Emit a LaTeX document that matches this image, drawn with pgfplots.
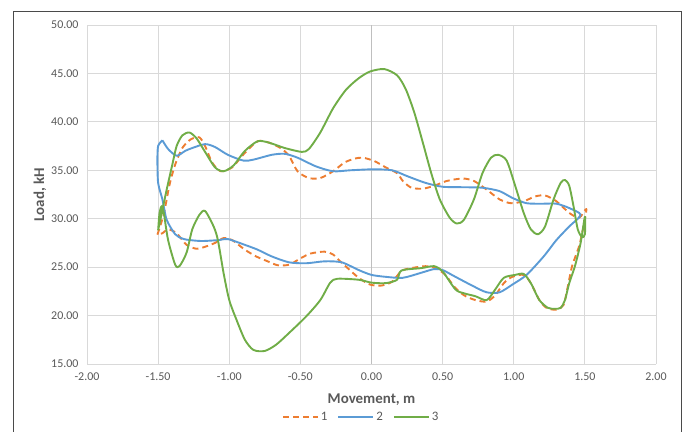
\documentclass[border=0pt]{standalone}
\usepackage{pgfplots}
\pgfplotsset{compat=1.18}
\usepackage{fontspec}
\setmainfont{Carlito}
\definecolor{ser1}{HTML}{ED7D31}
\definecolor{ser2}{HTML}{5B9BD5}
\definecolor{ser3}{HTML}{70AD47}
\definecolor{txt}{HTML}{595959}
\definecolor{grd}{HTML}{D9D9D9}
\definecolor{zline}{HTML}{BFBFBF}
\definecolor{frm}{HTML}{4A4A4A}
\begin{document}
\begin{tikzpicture}[x=1bp,y=1bp]
\useasboundingbox (0,0) rectangle (688,431);
\draw[frm, line width=1bp] (13.5,-2) -- (13.5,419.5) -- (681,419.5) -- (681,-2);
\begin{axis}[
  at={(87bp,67bp)}, anchor=south west,
  scale only axis, width=569bp, height=339bp,
  xmin=-2, xmax=2, ymin=15, ymax=50,
  xtick={-2,-1.5,-1,-0.5,0,0.5,1,1.5,2},
  ytick={15,20,25,30,35,40,45,50},
  /pgf/number format/.cd, fixed, fixed zerofill, precision=2, assume math mode=true,
  /pgfplots/.cd,
  grid=major,
  major grid style={grd, line width=0.8bp},
  axis line style={draw=none},
  major tick length=0pt,
  tick label style={font=\fontsize{12}{12}\selectfont, text=txt},
  yticklabel style={xshift=-5bp},
  xticklabel style={yshift=-5bp},
  xlabel={\textbf{Movement, m}},
  ylabel={\textbf{Load, kH}},
  label style={font=\fontsize{15}{15}\selectfont, text=txt},
  xlabel style={at={(axis description cs:0.5,-0.106)}, anchor=center},
  ylabel style={at={(axis description cs:-0.0826,0.5)}, anchor=center, rotate=0},
  legend style={at={(axis description cs:0.482,-0.157)}, anchor=center, draw=none, fill=none,
    font=\fontsize{13}{13}\selectfont, text=txt,
    /tikz/every even column/.append style={column sep=8bp}},
  legend columns=3,
  legend image code/.code={\draw[#1] (0bp,0bp) -- (35bp,0bp);},
  every axis plot/.append style={line width=1.9bp, smooth, tension=0.45, line join=round},
]
\addplot[zline, line width=0.9bp, forget plot, sharp plot] coordinates {(0,15) (0,50)};
\addplot[ser1, dash pattern=on 6bp off 4bp] coordinates {
(-1.505,28.35) (-1.46,30.5) (-1.42,33.5) (-1.38,35.6) (-1.33,37.3) (-1.27,38.2) (-1.21,38.4)
(-1.17,37.5) (-1.12,35.8) (-1.06,34.9) (-0.98,35.3) (-0.89,36.8) (-0.80,38.0) (-0.72,37.85)
(-0.64,37.3) (-0.58,36.5) (-0.52,34.9) (-0.44,34.2) (-0.36,34.2) (-0.27,34.9) (-0.19,35.8)
(-0.12,36.2) (-0.06,36.3) (0.02,35.95) (0.10,35.3) (0.18,34.7) (0.22,33.9) (0.28,33.2)
(0.36,33.1) (0.44,33.4) (0.53,33.9) (0.64,34.15) (0.72,33.9) (0.81,33.0) (0.90,32.0)
(0.98,31.6) (1.07,31.8) (1.15,32.3) (1.22,32.4) (1.30,31.8) (1.39,30.6) (1.46,30.1)
(1.51,31.0) (1.49,29.2) (1.46,27.2) (1.41,25.1) (1.38,23.0) (1.35,21.1) (1.30,20.6)
(1.23,20.8) (1.18,21.6) (1.12,23.35) (1.07,24.2) (0.99,24.0) (0.93,23.35) (0.87,22.1)
(0.81,21.45) (0.73,21.6) (0.65,22.1) (0.58,23.0) (0.52,24.2) (0.45,24.9) (0.38,25.1)
(0.28,24.9) (0.21,24.6) (0.145,23.5) (0.07,23.1) (-0.01,23.2) (-0.09,23.9) (-0.16,24.8)
(-0.22,25.6) (-0.27,26.3) (-0.33,26.6) (-0.43,26.4) (-0.50,25.9) (-0.58,25.25) (-0.66,25.2)
(-0.73,25.6) (-0.81,26.1) (-0.89,26.8) (-0.98,27.8) (-1.04,28.0) (-1.10,27.5) (-1.17,27.1)
(-1.23,26.9) (-1.30,27.3) (-1.37,28.5) (-1.43,28.9) (-1.47,28.5) (-1.505,28.35)
};
\addlegendentry{1}
\addplot[ser2] coordinates {
(-1.47,38.1) (-1.43,37.2) (-1.37,36.5) (-1.31,37.0) (-1.26,37.3) (-1.17,37.7) (-1.10,37.4)
(-1.01,36.6) (-0.90,36.0) (-0.83,36.1) (-0.70,36.6) (-0.61,36.7) (-0.52,36.3) (-0.39,35.4)
(-0.27,34.9) (-0.15,35.0) (0.01,35.1) (0.145,35.0) (0.25,34.4) (0.38,33.7) (0.50,33.3)
(0.65,33.25) (0.78,33.2) (0.90,32.85) (0.99,32.15) (1.09,31.6) (1.21,31.55) (1.30,31.55)
(1.39,31.1) (1.47,30.4) (1.39,29.2) (1.30,27.8) (1.21,26.1) (1.09,24.2) (0.99,23.2)
(0.90,22.4) (0.81,22.4) (0.72,23.0) (0.59,24.0) (0.50,24.7) (0.44,24.8) (0.345,24.4)
(0.22,23.9) (0.10,24.0) (0.00,24.2) (-0.09,24.7) (-0.21,25.5) (-0.33,25.6) (-0.46,25.4)
(-0.58,25.5) (-0.70,26.1) (-0.80,26.8) (-0.89,27.3) (-1.01,27.9) (-1.07,27.8) (-1.20,27.7)
(-1.32,27.9) (-1.38,28.4) (-1.44,29.9) (-1.47,32.0) (-1.50,33.7) (-1.505,36.1) (-1.50,37.5)
(-1.47,38.1)
};
\addlegendentry{2}
\addplot[ser3] coordinates {
(-1.50,28.8) (-1.48,30.2) (-1.46,31.6) (-1.44,33.0) (-1.40,35.6) (-1.37,37.5) (-1.33,38.6)
(-1.28,38.9) (-1.23,38.3) (-1.17,36.9) (-1.10,35.3) (-1.04,34.9) (-0.97,35.5) (-0.89,37.0)
(-0.80,38.0) (-0.72,37.85) (-0.61,37.3) (-0.49,36.9) (-0.44,37.2) (-0.36,38.9) (-0.27,41.4)
(-0.18,43.3) (-0.09,44.5) (-0.01,45.2) (0.09,45.45) (0.18,44.8) (0.24,43.4) (0.30,41.0)
(0.36,37.9) (0.42,34.7) (0.48,32.0) (0.55,30.1) (0.60,29.5) (0.65,29.9) (0.72,32.0)
(0.78,34.7) (0.84,36.3) (0.89,36.6) (0.95,36.0) (1.01,33.4) (1.07,30.6) (1.12,28.9)
(1.17,28.4) (1.22,29.2) (1.28,32.0) (1.33,33.7) (1.36,34.0) (1.39,33.4) (1.42,31.3)
(1.45,28.9) (1.48,28.1) (1.50,28.4) (1.50,30.2) (1.47,27.5) (1.43,25.1) (1.39,23.35)
(1.36,21.6) (1.33,20.8) (1.29,20.7) (1.24,20.8) (1.18,21.6) (1.12,23.35) (1.07,24.3)
(1.01,24.2) (0.93,23.9) (0.87,22.7) (0.81,21.6) (0.73,22.0) (0.65,22.3) (0.59,22.7)
(0.50,24.55) (0.44,25.1) (0.35,24.9) (0.21,24.65) (0.18,23.7) (0.10,23.35) (0.00,23.4)
(-0.09,23.7) (-0.24,23.8) (-0.29,23.4) (-0.36,21.6) (-0.46,19.9) (-0.58,18.2) (-0.67,17.0)
(-0.75,16.35) (-0.83,16.45) (-0.89,17.5) (-0.95,19.6) (-1.00,21.6) (-1.04,24.4) (-1.08,27.8)
(-1.11,29.2) (-1.17,30.8) (-1.21,30.4) (-1.26,28.9) (-1.30,26.5) (-1.35,25.1) (-1.38,25.25)
(-1.43,27.8) (-1.46,30.6) (-1.475,31.3) (-1.49,30.6) (-1.50,28.8)
};
\addlegendentry{3}
\end{axis}
\end{tikzpicture}
\end{document}
